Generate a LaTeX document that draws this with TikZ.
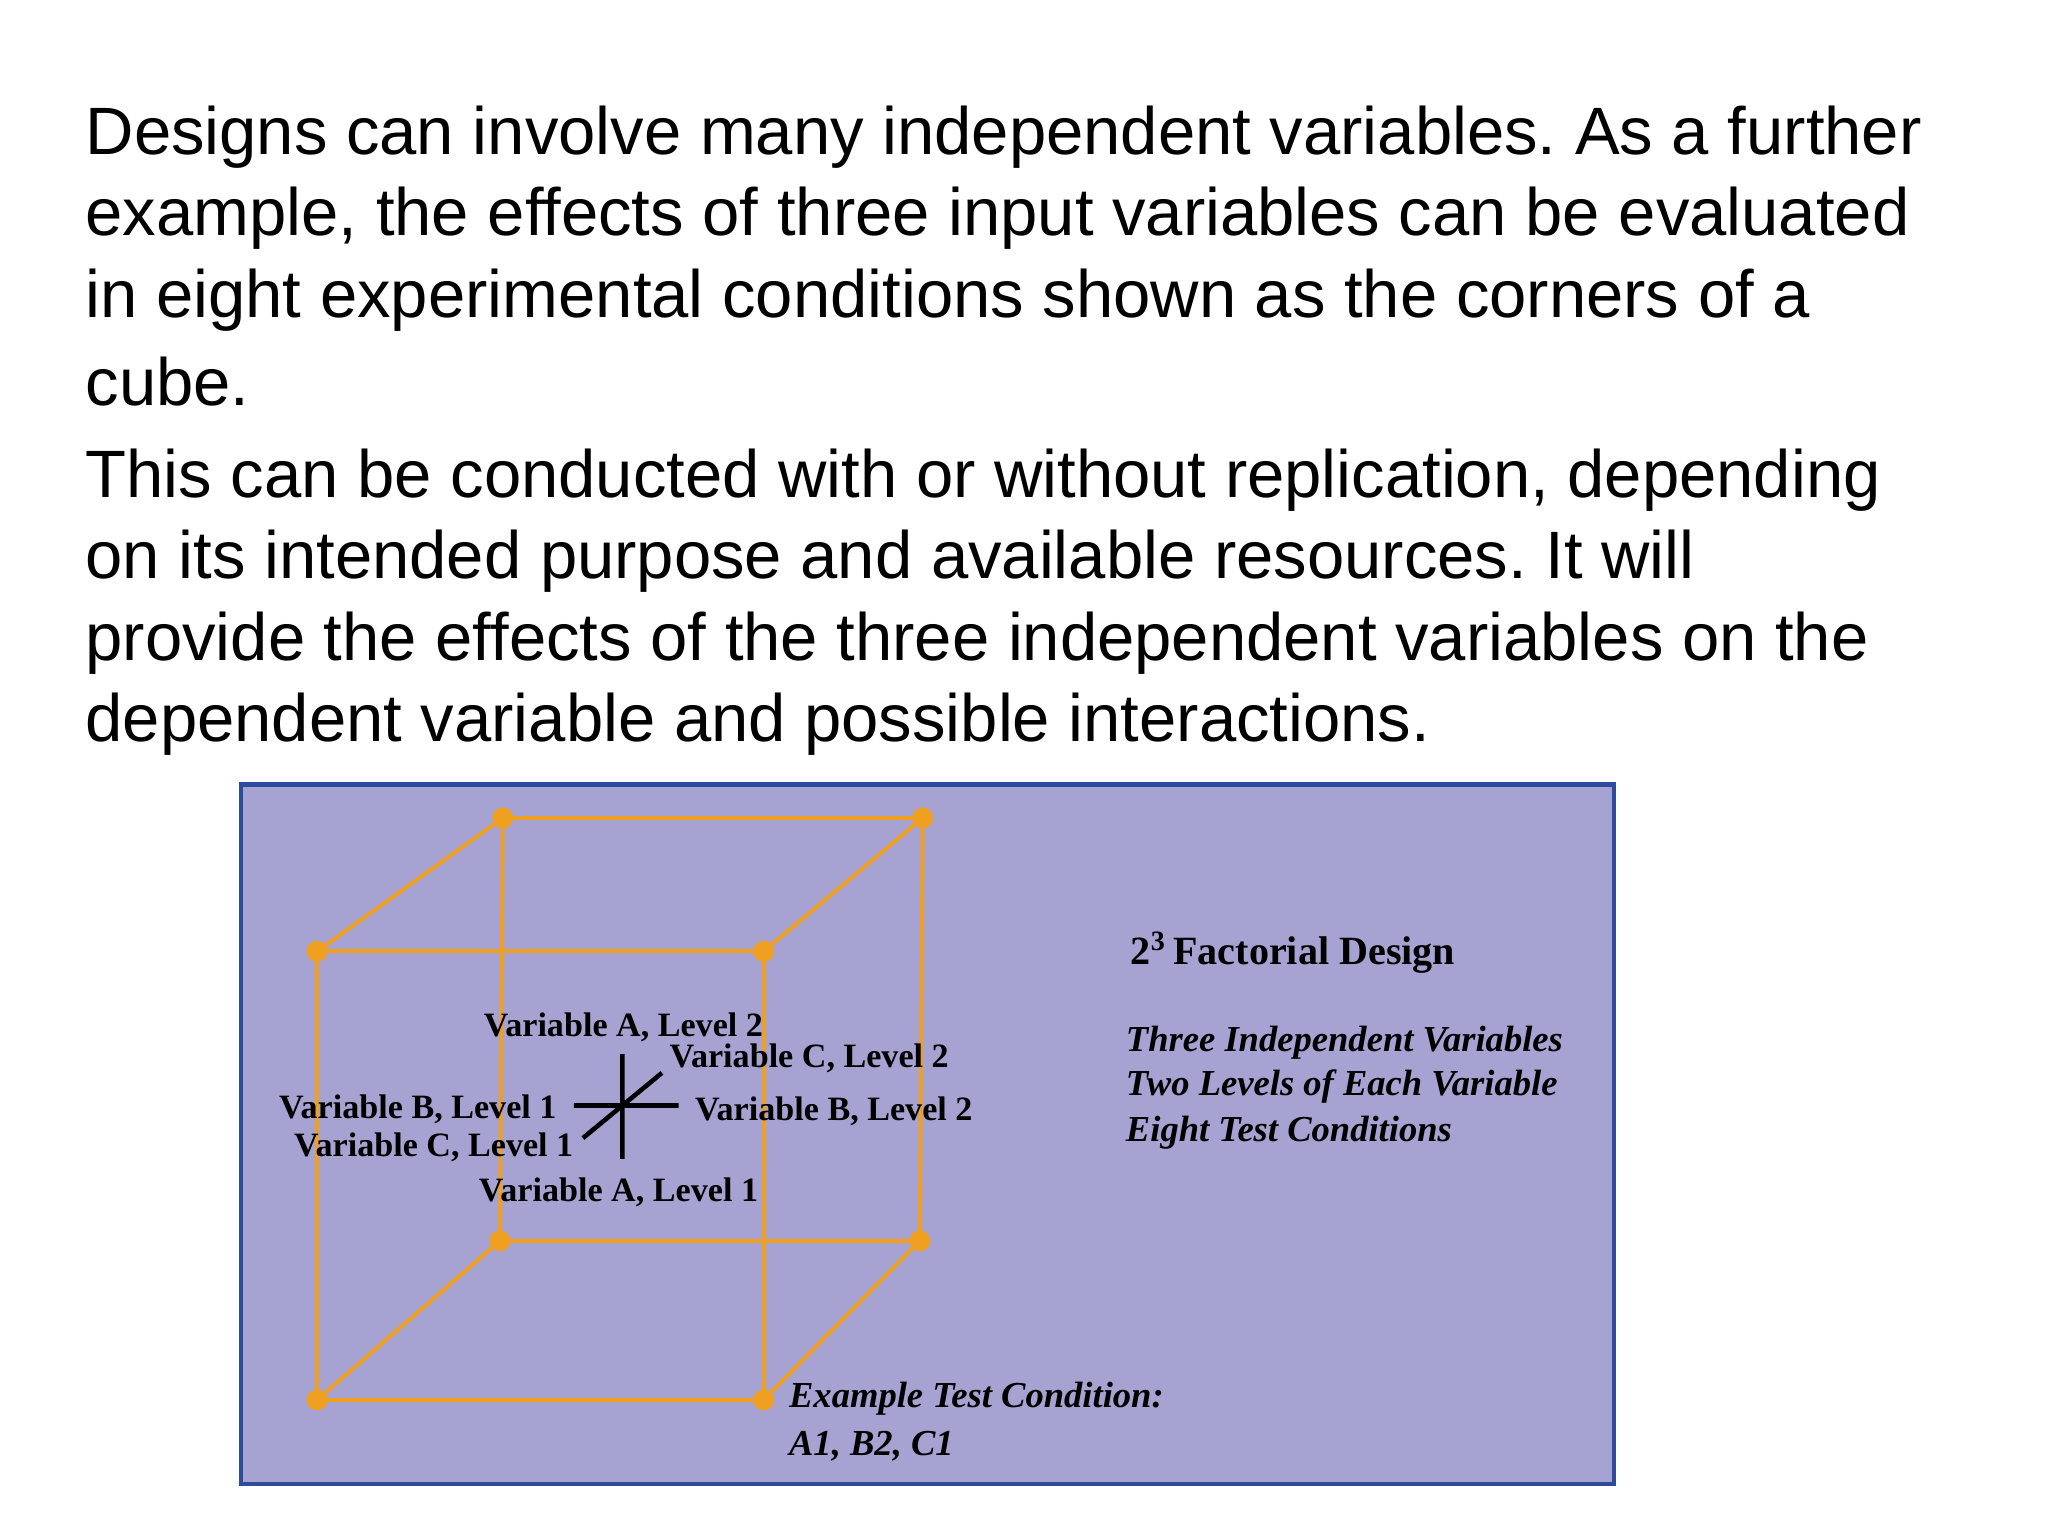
\documentclass[tikz,border=0pt]{standalone}
\usepackage{fontspec}
\setmainfont{Liberation Serif}
\newfontfamily\arialf{Liberation Sans}
\definecolor{bgp}{HTML}{A6A2D1}
\definecolor{brd}{HTML}{2E4A9A}
\definecolor{org}{HTML}{F0A020}
\frenchspacing
\begin{document}
\begin{tikzpicture}[x=0.00988cm,y=-0.00988cm,
  para/.style={anchor=west,font=\arialf\fontsize{19.05}{22}\selectfont,inner sep=0pt},
  lab/.style={font=\bfseries\fontsize{9.7}{11}\selectfont,inner sep=0pt},
  ital/.style={anchor=west,font=\bfseries\itshape\fontsize{10.4}{12}\selectfont,inner sep=0pt},
  edge/.style={org,line width=1.1pt},
  dot/.style={circle,fill=org,minimum size=0.21cm,inner sep=0pt}]
\useasboundingbox (0,0) rectangle (2073,1555);
\node[para] (l1) at (86,139) {Designs can involve many independent variables. As a further};
\node[para] (l2) at (86,221) {example, the effects of three input variables can be evaluated};
\node[para] (l3) at (86,304) {in eight experimental conditions shown as the corners of a};
\node[para] (l4) at (86,386) {cube.};
\node[para] (l5) at (86,486) {This can be conducted with or without replication, depending};
\node[para] (l6) at (86,568) {on its intended purpose and available resources. It will};
\node[para] (l7) at (86,651) {provide the effects of the three independent variables on the};
\node[para] (l8) at (86,733) {dependent variable and possible interactions.};
\draw[brd,fill=bgp,line width=1.2pt] (244,794) rectangle (1634,1502);
\node[dot] (btl) at (509,828) {};
\node[dot] (btr) at (934,828) {};
\node[dot] (ftl) at (321,963) {};
\node[dot] (ftr) at (773,963) {};
\node[dot] (bbl) at (506,1256) {};
\node[dot] (bbr) at (931,1256) {};
\node[dot] (fbl) at (321,1417) {};
\node[dot] (fbr) at (773,1417) {};
\draw[edge] (btl.center)--(btr.center)--(bbr.center)--(bbl.center)--cycle;
\draw[edge] (ftl.center)--(ftr.center)--(fbr.center)--(fbl.center)--cycle;
\draw[edge] (btl.center)--(ftl.center) (btr.center)--(ftr.center) (bbl.center)--(fbl.center) (bbr.center)--(fbr.center);
\coordinate (h1) at (581,1119); \coordinate (h2) at (687,1119);
\coordinate (v1) at (630,1067); \coordinate (v2) at (630,1173);
\coordinate (d1) at (590,1152); \coordinate (d2) at (670,1086);
\draw[line width=1.3pt] (h1)--(h2) (v1)--(v2) (d1)--(d2);
\node[lab] (a2) at (631,1040) {Variable A, Level 2};
\node[lab] (c2) at (819,1071) {Variable C, Level 2};
\node[lab,anchor=east] (b1) at (564,1123) {Variable B, Level 1};
\node[lab,anchor=east] (c1) at (581,1161) {Variable C, Level 1};
\node[lab] (b2) at (844,1125) {Variable B, Level 2};
\node[lab] (a1) at (626,1207) {Variable A, Level 1};
\node[anchor=west,inner sep=0pt,font=\bfseries\fontsize{11.4}{13}\selectfont] (ti) at (1144,964) {2\textsuperscript{3}\,Factorial Design};
\node[ital] (t1) at (1139,1055) {Three Independent Variables};
\node[ital] (t2) at (1139,1100) {Two Levels of Each Variable};
\node[ital] (t3) at (1139,1147) {Eight Test Conditions};
\node[ital] (e1) at (798,1416) {Example Test Condition:};
\node[ital] (e2) at (798,1464) {A1, B2, C1};
\end{tikzpicture}
\end{document}
